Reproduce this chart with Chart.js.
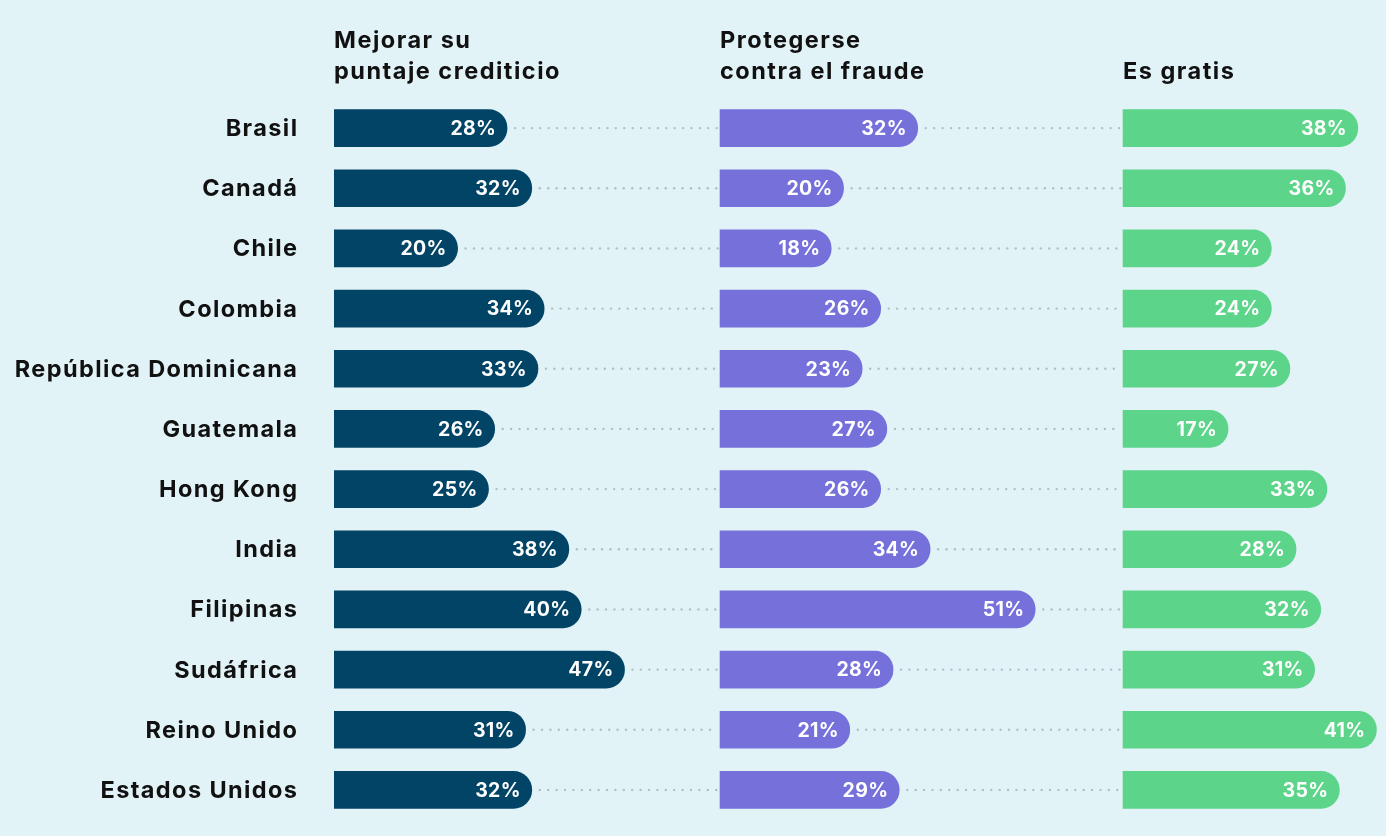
<!DOCTYPE html>
<html>
<head>
<meta charset="utf-8">
<script src="https://cdn.jsdelivr.net/npm/chart.js@4/dist/chart.umd.min.js"></script>
<style>
  html, body { margin: 0; padding: 0; background: #E2F3F8; }
  canvas { display: block; }
</style>
</head>
<body>
<canvas id="c" width="1386" height="836"></canvas>
<script>
// ---- data ----
const countries = ["Brasil", "Canadá", "Chile", "Colombia", "República Dominicana", "Guatemala",
  "Hong Kong", "India", "Filipinas", "Sudáfrica", "Reino Unido", "Estados Unidos"];
const mejorarPuntaje = [28, 32, 20, 34, 33, 26, 25, 38, 40, 47, 31, 32];
const protegerseFraude = [32, 20, 18, 26, 23, 27, 26, 34, 51, 28, 21, 29];
const esGratis = [38, 36, 24, 24, 27, 17, 33, 28, 32, 31, 41, 35];
const seriesTitles = [["Mejorar su", "puntaje crediticio"], ["Protegerse", "contra el fraude"], ["Es gratis"]];

// ---- layout / style ----
const panelStart = [0, 62.45, 127.65];
const xMax = 170.2;
const colors = ["#024465", "#7570DA", "#5CD48A"];
const FONT = "Inter, 'Noto Sans', sans-serif";

const allSeries = [mejorarPuntaje, protegerseFraude, esGratis];
const datasets = allSeries.map((vals, i) => ({
  label: seriesTitles[i].join(" "),
  data: vals.map(v => [panelStart[i], panelStart[i] + v]),
  rawValues: vals,
  backgroundColor: colors[i],
  borderWidth: 0,
  borderSkipped: false,
  borderRadius: { topLeft: 0, bottomLeft: 0, topRight: 19, bottomRight: 19 },
  barThickness: 37,
  grouped: false
}));

const decor = {
  id: 'decor',
  beforeDatasetsDraw(chart) {
    const ctx = chart.ctx;
    const xs = chart.scales.x;
    const ys = chart.scales.y;
    ctx.save();
    ctx.fillStyle = "#AFBFC3";
    for (let d = 0; d < 2; d++) {
      const meta = chart.getDatasetMeta(d);
      const nextStart = xs.getPixelForValue(panelStart[d + 1]);
      meta.data.forEach(bar => {
        let x = bar.x + 8;
        while (x < nextStart - 2) {
          ctx.beginPath();
          ctx.arc(x, bar.y, 1.2, 0, Math.PI * 2);
          ctx.fill();
          x += 8.4;
        }
      });
    }
    // category labels
    ctx.fillStyle = "#111111";
    ctx.font = "700 23.5px " + FONT;
    ctx.letterSpacing = "1.4px";
    ctx.textAlign = "right";
    ctx.textBaseline = "middle";
    const labelRight = chart.chartArea.left - 37;
    countries.forEach((c, i) => {
      ctx.fillText(c, labelRight + 1.4, ys.getPixelForValue(i) + 1);
    });
    ctx.restore();
  },
  afterDatasetsDraw(chart) {
    const ctx = chart.ctx;
    const xs = chart.scales.x;
    ctx.save();
    // value labels
    ctx.fillStyle = "#FFFFFF";
    ctx.font = "700 19.5px " + FONT;
    ctx.letterSpacing = "0.3px";
    ctx.textAlign = "right";
    ctx.textBaseline = "middle";
    chart.data.datasets.forEach((ds, d) => {
      const meta = chart.getDatasetMeta(d);
      meta.data.forEach((bar, i) => {
        ctx.fillText(ds.rawValues[i] + "%", bar.x - 11, bar.y + 1);
      });
    });
    // headers
    ctx.fillStyle = "#111111";
    ctx.font = "700 23.5px " + FONT;
    ctx.letterSpacing = "1.5px";
    ctx.textAlign = "left";
    seriesTitles.forEach((lines, d) => {
      const x = xs.getPixelForValue(panelStart[d]);
      const n = lines.length;
      lines.forEach((t, k) => {
        ctx.fillText(t, x, 72 - (n - 1 - k) * 31);
      });
    });
    ctx.restore();
  }
};

new Chart(document.getElementById("c"), {
  type: "bar",
  data: { labels: countries, datasets },
  options: {
    indexAxis: "y",
    responsive: false,
    animation: false,
    devicePixelRatio: 1,
    layout: { padding: { top: 98, bottom: 16, left: 334, right: 0 } },
    plugins: { legend: { display: false }, tooltip: { enabled: false } },
    scales: {
      x: { type: "linear", min: 0, max: xMax, display: false },
      y: { type: "category", display: false }
    }
  },
  plugins: [decor]
});
</script>
</body>
</html>
